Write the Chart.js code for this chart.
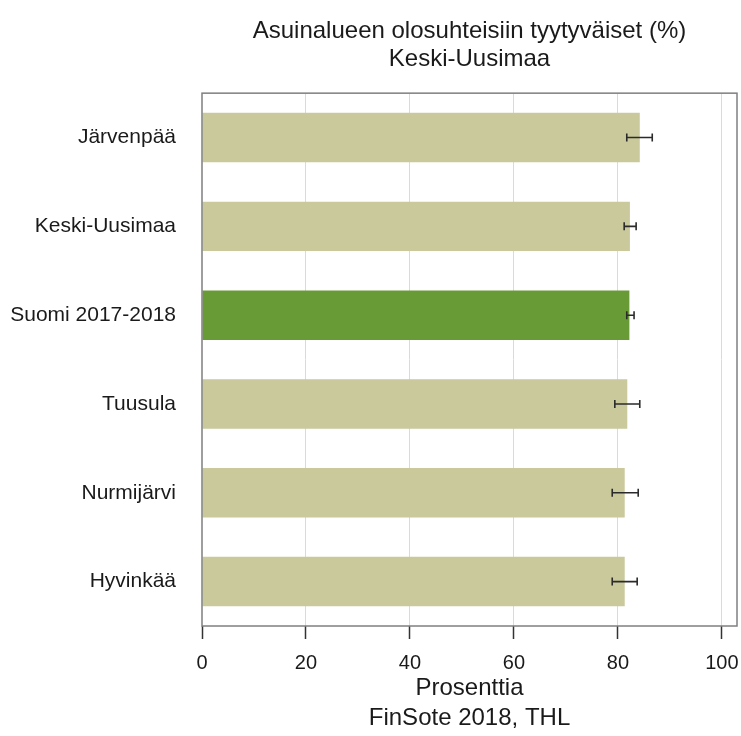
<!DOCTYPE html>
<html>
<head>
  <title>Asuinalueen olosuhteisiin tyytyväiset</title>
  <script src="https://cdn.jsdelivr.net/npm/chart.js"></script>
  <style>
    html, body { margin: 0; padding: 0; background: #fff; overflow: hidden; }
    canvas { display: block; }
  </style>
</head>
<body>
  <canvas id="chart" width="741" height="736"></canvas>

  <script>
    const FONT = "'Liberation Sans', Arial, Helvetica, sans-serif";

    // Alueet ja osuudet (%) sekä 95 % luottamusvälit
    const areas = ['Järvenpää', 'Keski-Uusimaa', 'Suomi 2017-2018', 'Tuusula', 'Nurmijärvi', 'Hyvinkää'];
    const shares = [84.2, 82.3, 82.2, 81.8, 81.3, 81.3];
    const ciLow = [81.7, 81.2, 81.7, 79.4, 78.9, 78.9];
    const ciHigh = [86.6, 83.5, 83.1, 84.2, 83.9, 83.7];
    const xTicks = [0, 20, 40, 60, 80, 100];

    const BAR = '#c9c99b';
    const BAR_FI = '#689a35';

    // Luottamusvälit vaakaviivoina päätyviivoilla
    const errorBars = {
      id: 'errorBars',
      afterDatasetsDraw(chart) {
        const { ctx, scales: { x, y } } = chart;
        ctx.save();
        ctx.strokeStyle = '#2b2b2b';
        ctx.lineWidth = 1.6;
        for (let i = 0; i < areas.length; i++) {
          const yc = y.getPixelForValue(i);
          const x1 = x.getPixelForValue(ciLow[i]);
          const x2 = x.getPixelForValue(ciHigh[i]);
          ctx.beginPath();
          ctx.moveTo(x1, yc); ctx.lineTo(x2, yc);
          ctx.moveTo(x1, yc - 4); ctx.lineTo(x1, yc + 4);
          ctx.moveTo(x2, yc - 4); ctx.lineTo(x2, yc + 4);
          ctx.stroke();
        }
        ctx.restore();
      }
    };

    // Kehys kuvaajan ympärille
    const frame = {
      id: 'frame',
      afterDraw(chart) {
        const a = chart.chartArea;
        const ctx = chart.ctx;
        ctx.save();
        ctx.strokeStyle = '#7f7f7f';
        ctx.lineWidth = 1.5;
        ctx.strokeRect(a.left, a.top, a.right - a.left, a.bottom - a.top);
        ctx.restore();
      }
    };

    const ctx = document.getElementById('chart').getContext('2d');
    const chart = new Chart(ctx, {
      type: 'bar',
      data: {
        labels: areas,
        datasets: [{
          data: shares,
          backgroundColor: areas.map(a => a.startsWith('Suomi') ? BAR_FI : BAR),
          borderWidth: 0,
          barPercentage: 0.557,
          categoryPercentage: 1
        }]
      },
      options: {
        indexAxis: 'y',
        responsive: false,
        animation: false,
        layout: { padding: { left: 0, right: 4, top: 0, bottom: 0 } },
        plugins: {
          legend: { display: false },
          tooltip: { enabled: false },
          title: {
            display: true,
            fullSize: false,
            text: ['Asuinalueen olosuhteisiin tyytyväiset (%)', 'Keski-Uusimaa'],
            color: '#1a1a1a',
            font: { family: FONT, size: 24, weight: 'normal', lineHeight: 1.17 },
            padding: { top: 17, bottom: 20 }
          }
        },
        scales: {
          x: {
            min: 0,
            max: 102.9,
            afterBuildTicks(axis) { axis.ticks = xTicks.map(v => ({ value: v })); },
            afterFit(axis) {
              axis.height = 110;
              // viimeinen tikkiteksti saa ulottua kehyksen yli
              axis.paddingRight = 0;
              axis.paddingLeft = 0;
            },
            grid: {
              color: ctx => ctx.tick && ctx.tick.value === 0 ? 'rgba(0,0,0,0)' : '#dadada',
              lineWidth: 1,
              drawTicks: true,
              tickLength: 13,
              tickColor: '#333',
              tickWidth: 1.5
            },
            border: { display: false },
            ticks: {
              color: '#1a1a1a',
              font: { family: FONT, size: 20 },
              padding: 12,
              maxRotation: 0
            },
            title: {
              display: true,
              text: ['Prosenttia', 'FinSote 2018, THL'],
              color: '#1a1a1a',
              font: { family: FONT, size: 24, lineHeight: 1.25 },
              padding: { top: 0, bottom: 3 }
            }
          },
          y: {
            afterFit(axis) { axis.width = 202; },
            grid: { display: false, drawTicks: false },
            border: { display: false },
            ticks: {
              color: '#1a1a1a',
              font: { family: FONT, size: 21 },
              padding: 26
            }
          }
        }
      },
      plugins: [errorBars, frame]
    });
  </script>
</body>
</html>
